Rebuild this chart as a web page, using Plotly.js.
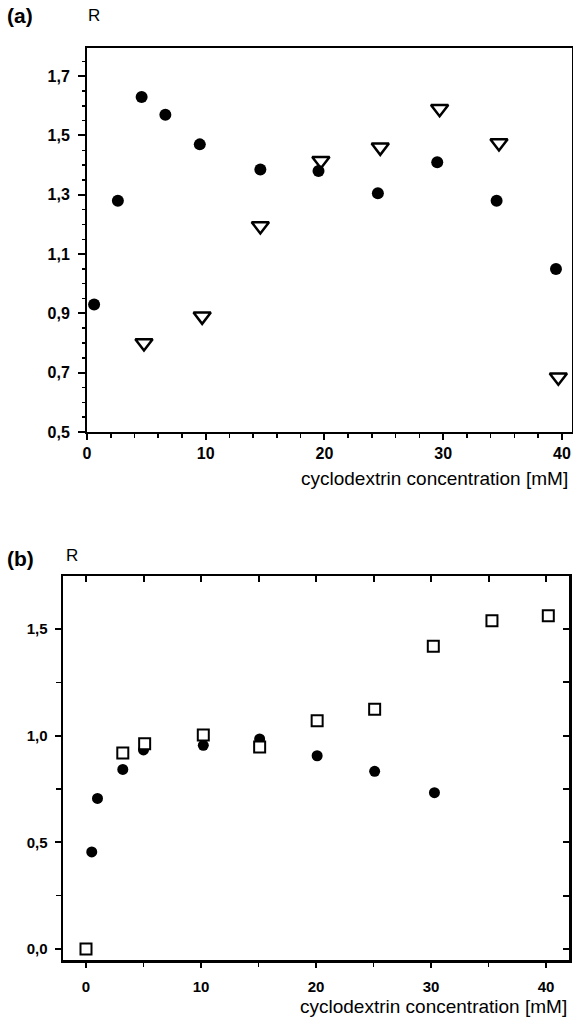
<!DOCTYPE html>
<html><head><meta charset="utf-8">
<script src="https://cdn.plot.ly/plotly-3.0.1.min.js"></script>
<style>html,body{margin:0;padding:0;background:#fff}#plot{width:573px;height:1021px}</style>
</head><body><div id="plot"></div>
<script>
// ---- Panel (a) data ----
const aCircleX = [0.6, 2.6, 4.6, 6.6, 9.5, 14.6, 19.5, 24.5, 29.5, 34.5, 39.5];
const aCircleY = [0.93, 1.28, 1.63, 1.57, 1.47, 1.385, 1.38, 1.305, 1.41, 1.28, 1.05];
const aTriX = [4.8, 9.7, 14.6, 19.7, 24.7, 29.7, 34.7, 39.7];
const aTriY = [0.80, 0.89, 1.195, 1.415, 1.46, 1.59, 1.475, 0.685];
// ---- Panel (b) data ----
const bCircleX = [0, 0.5, 1.0, 3.2, 5.0, 10.2, 15.1, 20.1, 25.1, 30.3];
const bCircleY = [0.0, 0.455, 0.706, 0.842, 0.933, 0.955, 0.985, 0.906, 0.833, 0.733];
const bSquareX = [0, 3.2, 5.1, 10.2, 15.1, 20.1, 25.1, 30.2, 35.3, 40.2];
const bSquareY = [0.0, 0.919, 0.962, 1.003, 0.947, 1.07, 1.124, 1.42, 1.539, 1.562];
// ---- tick labels ----
const xTickVals = [0, 10, 20, 30, 40];
const xTickText = ['0', '10', '20', '30', '40'];
const aYTickVals = [0.5, 0.7, 0.9, 1.1, 1.3, 1.5, 1.7];
const aYTickText = ['0,5', '0,7', '0,9', '1,1', '1,3', '1,5', '1,7'];
const bYTickVals = [0, 0.5, 1.0, 1.5];
const bYTickText = ['0,0', '0,5', '1,0', '1,5'];
const xTitle = 'cyclodextrin concentration [mM]';

const W = 573, H = 1021;
const px = v => v / W, py = v => 1 - v / H;
const FONT = 'Liberation Sans, Arial, sans-serif';
const tickFont = {family: FONT, size: 16, color: '#000', weight: 700};

const traces = [
  {x: aCircleX, y: aCircleY, xaxis: 'x', yaxis: 'y', mode: 'markers', type: 'scatter',
   marker: {symbol: 'circle', size: 12, color: '#000'}},
  {x: aTriX, y: aTriY, xaxis: 'x', yaxis: 'y', mode: 'markers', type: 'scatter',
   marker: {symbol: 'triangle-down-open', size: 15, color: '#000', line: {width: 2.5, color: '#000'}}},
  {x: bCircleX, y: bCircleY, xaxis: 'x2', yaxis: 'y2', mode: 'markers', type: 'scatter',
   marker: {symbol: 'circle', size: 11, color: '#000'}},
  {x: bSquareX, y: bSquareY, xaxis: 'x2', yaxis: 'y2', mode: 'markers', type: 'scatter',
   marker: {symbol: 'square', size: 11, color: '#fff', line: {width: 2, color: '#000'}}},
  {x: [], y: [], xaxis: 'x3', yaxis: 'y3', mode: 'markers', type: 'scatter'}
];

const common = {showgrid: false, zeroline: false, showline: true, linecolor: '#000',
  linewidth: 2, tickcolor: '#000', tickfont: tickFont, fixedrange: true};

const layout = {
  width: W, height: H, showlegend: false,
  margin: {l: 0, r: 0, t: 0, b: 0},
  paper_bgcolor: '#fff', plot_bgcolor: '#fff',
  font: {family: FONT, color: '#000'},
  xaxis: Object.assign({}, common, {
    domain: [px(87), px(572)], anchor: 'y', range: [0, 40.85], mirror: true,
    tickmode: 'array', tickvals: xTickVals, ticktext: xTickText,
    ticks: 'outside', ticklen: 6, tickwidth: 2, ticklabelstandoff: 0,
    minor: {tickmode: 'linear', tick0: 0, dtick: 2, ticks: 'outside', ticklen: 4, tickwidth: 1.5, tickcolor: '#000'}
  }),
  yaxis: Object.assign({}, common, {
    domain: [py(432), py(48)], anchor: 'x', range: [0.5, 1.795], mirror: true,
    tickmode: 'array', tickvals: aYTickVals, ticktext: aYTickText,
    ticks: 'outside', ticklen: 7, tickwidth: 2, ticklabelstandoff: 5,
    minor: {tickmode: 'linear', tick0: 0.5, dtick: 0.05, ticks: 'outside', ticklen: 3, tickwidth: 1.5, tickcolor: '#000'}
  }),
  xaxis2: Object.assign({}, common, {
    domain: [px(63), px(569)], anchor: 'y2', range: [-2, 42], mirror: true, linewidth: 2.5,
    tickmode: 'array', tickvals: xTickVals, ticktext: xTickText,
    ticks: 'outside', ticklen: 5, tickwidth: 2, ticklabelstandoff: 6,
    minor: {tickmode: 'linear', tick0: 0, dtick: 5, ticks: 'outside', ticklen: 4, tickwidth: 1.5, tickcolor: '#000'},
    tickfont: {family: FONT, size: 15, color: '#000', weight: 700}
  }),
  yaxis2: Object.assign({}, common, {
    domain: [py(960), py(576)], anchor: 'x2', range: [-0.052, 1.749], mirror: true, linewidth: 2.5,
    tickmode: 'array', tickvals: bYTickVals, ticktext: bYTickText,
    ticks: 'outside', ticklen: 6, tickwidth: 2, ticklabelstandoff: 4,
    minor: {tickmode: 'linear', tick0: 0, dtick: 0.25, ticks: 'outside', ticklen: 5, tickwidth: 1.5, tickcolor: '#000'},
    tickfont: {family: FONT, size: 15, color: '#000', weight: 700}
  }),
  xaxis3: {overlaying: 'x2', anchor: 'y3', side: 'top', range: [-2, 42], showgrid: false, zeroline: false,
    showline: false, showticklabels: false, ticks: 'inside', ticklen: 6, tickwidth: 2, tickcolor: '#000',
    tickmode: 'linear', tick0: 0, dtick: 5, fixedrange: true},
  yaxis3: {overlaying: 'y2', anchor: 'x3', side: 'right', range: [-0.052, 1.749], showgrid: false, zeroline: false,
    showline: false, showticklabels: false, ticks: 'inside', ticklen: 6, tickwidth: 2, tickcolor: '#000',
    tickmode: 'linear', tick0: 0, dtick: 0.25, fixedrange: true},
  annotations: [
    {text: '<b>(a)</b>', xref: 'paper', yref: 'paper', x: px(5), y: py(16), xanchor: 'left', yanchor: 'middle',
     showarrow: false, font: {family: FONT, size: 21, color: '#000'}},
    {text: 'R', xref: 'paper', yref: 'paper', x: px(86), y: py(15), xanchor: 'left', yanchor: 'middle',
     showarrow: false, font: {family: FONT, size: 17, color: '#000'}},
    {text: xTitle, xref: 'paper', yref: 'paper', x: px(570), y: py(478), xanchor: 'right', yanchor: 'middle',
     showarrow: false, font: {family: FONT, size: 19, color: '#000'}},
    {text: '<b>(b)</b>', xref: 'paper', yref: 'paper', x: px(5), y: py(558), xanchor: 'left', yanchor: 'middle',
     showarrow: false, font: {family: FONT, size: 21, color: '#000'}},
    {text: 'R', xref: 'paper', yref: 'paper', x: px(64), y: py(555), xanchor: 'left', yanchor: 'middle',
     showarrow: false, font: {family: FONT, size: 17, color: '#000'}},
    {text: xTitle, xref: 'paper', yref: 'paper', x: px(569), y: py(1006), xanchor: 'right', yanchor: 'middle',
     showarrow: false, font: {family: FONT, size: 19, color: '#000'}}
  ]
};

Plotly.newPlot('plot', traces, layout, {displayModeBar: false, staticPlot: true});
</script></body></html>
